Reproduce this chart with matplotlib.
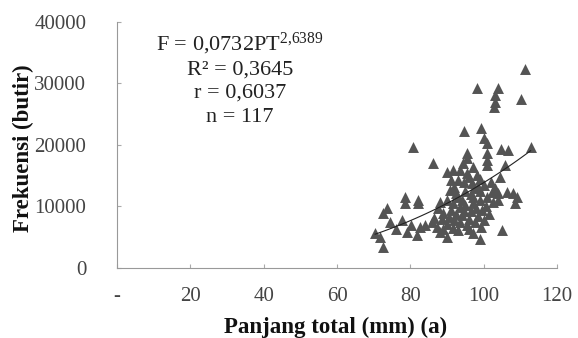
import matplotlib.pyplot as plt
import numpy as np

plt.rcParams['font.family'] = ['Liberation Serif', 'DejaVu Serif']
plt.rcParams['mathtext.fontset'] = 'custom'
plt.rcParams['mathtext.rm'] = 'Liberation Serif'

# total length (mm) and fecundity (eggs)
panjang = [111.4, 98.1, 104.0, 103.0, 103.0, 102.8, 110.2, 94.6, 99.4, 100.1,
           100.8, 80.6, 112.8, 104.7, 106.7, 100.8, 100.8, 100.8, 95.4, 95.4,
           86.1, 105.8, 89.9, 91.7, 93.5, 94.4, 98.1, 104.4, 91.2, 93.0,
           96.7, 98.5, 102.2, 104.0, 106.3, 108.1, 108.5, 109.0, 104.0, 90.7,
           92.5, 89.9, 91.7, 93.5, 97.2, 99.0, 97.2, 78.5, 78.5, 82.2,
           73.5, 72.6, 74.4, 77.6, 80.3, 82.6, 79.0, 81.7, 85.8, 87.2,
           88.1, 89.9, 97.6, 99.4, 99.0, 104.9, 70.4, 71.7, 72.6, 82.2,
           76.0, 84.0, 88.5, 89.0, 90.0, 90.5, 91.0, 91.5, 92.0, 92.5,
           93.0, 93.5, 94.0, 94.0, 94.5, 95.0, 95.0, 95.5, 96.0, 96.0,
           96.5, 96.5, 97.0, 97.5, 98.0, 98.5, 99.0, 99.5, 100.0, 100.5,
           101.0, 101.5, 102.0, 102.5, 103.0, 92.0, 93.0, 94.5, 95.5, 97.0,
           99.0, 87.5, 88.0, 86.5, 89.0, 96.0, 100.0]
frekuensi = [32300, 29200, 29200, 28100, 27000, 26200, 27400, 22200, 22700, 21100,
             20300, 19700, 19700, 19300, 19200, 18650, 17560, 16750, 18650, 17900,
             17100, 16750, 15660, 15930, 15930, 17020, 15120, 14850, 14300, 14300,
             13770, 13220, 12400, 12140, 12400, 12140, 10520, 11600, 11060, 12700,
             12140, 11060, 10520, 9970, 11600, 11060, 10520, 11600, 10520, 10520,
             9700, 8890, 7530, 7800, 6990, 6720, 5900, 5370, 7530, 6720,
             5900, 5100, 7530, 6720, 4660, 6180, 5740, 5100, 3460, 11100,
             6300, 7000, 8000, 9000, 7200, 8300, 9500, 6500, 7800, 8800,
             6200, 7500, 8600, 11000, 9300, 12500, 10300, 7000, 8000, 14800,
             9200, 12000, 5700, 13000, 9800, 8500, 12500, 9500, 13500, 10000,
             11500, 8800, 14000, 10800, 13000, 13200, 11500, 14000, 15500, 16500,
             14500, 9800, 10800, 8200, 6300, 6300, 7800]

# power regression shown on the chart
koef_a = 0.0732
koef_b = 2.6389

xticks = [0, 20, 40, 60, 80, 100, 120]
xticklabels = ['-', '20', '40', '60', '80', '100', '120']
yticks = [0, 10000, 20000, 30000, 40000]

fig = plt.figure(figsize=(5.78, 3.38), dpi=100)
ax = fig.add_axes([0.2024, 0.2071, 0.7613, 0.7279])

ax.scatter(panjang, frekuensi, marker='^', s=62, color='#545454', linewidths=0, zorder=2)

xs = np.linspace(min(panjang), max(panjang), 100)
ax.plot(xs, koef_a * xs ** koef_b, color='#222222', lw=0.8, zorder=3)

ax.set_xlim(0, 120)
ax.set_ylim(0, 40000)
ax.set_xticks(xticks)
ax.set_xticklabels(xticklabels)
ax.set_yticks(yticks)
ax.tick_params(direction='in', length=3, color='#aaaaaa', labelsize=15, labelcolor='#444444')
ax.tick_params(axis='x', pad=14)
ax.tick_params(axis='y', pad=22)
for s in ['top', 'right']:
    ax.spines[s].set_visible(False)
for s in ['left', 'bottom']:
    ax.spines[s].set_color('#999999')
    ax.spines[s].set_linewidth(0.8)

# axis titles
fig.text(336 / 578, 1 - 327 / 338, 'Panjang total (mm) (a)', ha='center', va='center',
         fontsize=16.5, fontweight='bold', color='#111111')
fig.text(23 / 578, 1 - 148 / 338, 'Frekuensi (butir)', ha='center', va='center', rotation=90,
         fontsize=16.5, fontweight='bold', color='#111111')

teks = ['F = 0,0732PT$\\mathregular{^{2{,}6389}}$', 'R² = 0,3645', 'r = 0,6037', 'n = 117']
ypos = [44, 70, 93, 117]
for t, yp in zip(teks, ypos):
    fig.text(240 / 578, 1 - yp / 338, t, ha='center', va='center', fontsize=16, color='#222222')

plt.savefig('out.png', dpi=100)
plt.close()
